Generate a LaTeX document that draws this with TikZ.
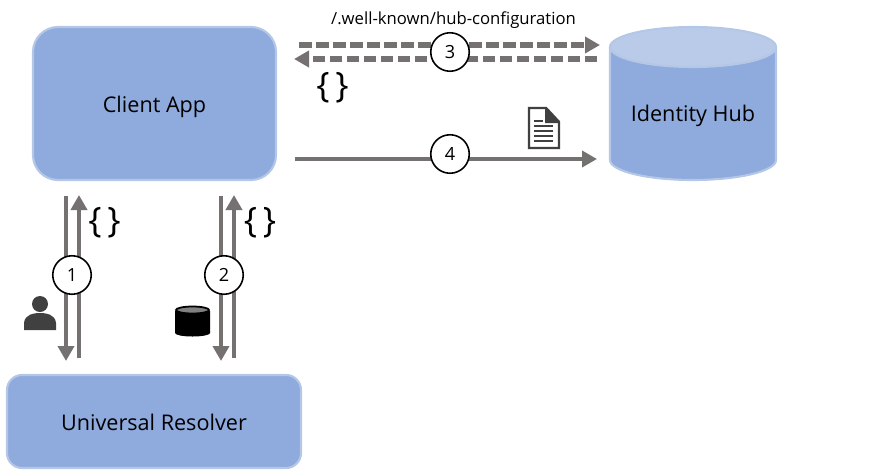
\documentclass[tikz,border=0pt]{standalone}
\usepackage{fontspec}
\setmainfont{Open Sans}
\usetikzlibrary{arrows.meta}
\definecolor{boxblue}{HTML}{8FAADC}
\definecolor{boxedge}{HTML}{B4C7E7}
\definecolor{hubtop}{HTML}{B9CBE8}
\definecolor{flowgrey}{HTML}{767171}
\definecolor{icongrey}{HTML}{404040}
\tikzset{
  flow/.style={line width=2.7pt,flowgrey,-{Triangle[length=3mm,width=3.2mm]}},
  dashflow/.style={line width=3pt,dash pattern=on 2.5mm off 0.9mm},
  appbox/.style={draw=boxedge,fill=boxblue,line width=1.2pt,rounded corners=5mm,minimum width=4.86cm,minimum height=3.06cm,font=\fontsize{12.3}{15}\selectfont},
  resolverbox/.style={appbox,rounded corners=3mm,minimum width=5.88cm,minimum height=1.86cm},
  stepnum/.style={draw=black,fill=white,circle,line width=0.9pt,minimum size=7.7mm,inner sep=0pt,font=\fontsize{10.3}{12}\selectfont},
  brace/.style={font=\fontsize{20}{24}\selectfont,inner sep=0pt},
}
\begin{document}
\begin{tikzpicture}
\useasboundingbox (0,0) rectangle (17.42,9.4);
% boxes
\node[appbox,text height=4.7mm] (app) at (3.09,7.33) {Client App};
\node[resolverbox,text height=3.8mm] (resolver) at (3.08,0.97) {Universal Resolver};
\draw[draw=boxedge,fill=boxblue,line width=1.2pt] (12.2,8.46) -- (12.2,6.2) arc[start angle=180,end angle=360,x radius=1.66,y radius=0.4] -- (15.52,8.46);
\draw[draw=boxedge,fill=hubtop,line width=1.2pt] (13.86,8.46) ellipse (1.66 and 0.4);
\node[font=\fontsize{12.3}{15}\selectfont] (hub) at (13.86,7.09) {Identity Hub};
% free ends of the connectors
\coordinate (a1) at (1.32,5.48); \coordinate (b1) at (1.32,2.18);
\coordinate (c1) at (1.58,2.24); \coordinate (d1) at (1.58,5.50);
\coordinate (a2) at (4.42,5.48); \coordinate (b2) at (4.42,2.18);
\coordinate (c2) at (4.68,2.24); \coordinate (d2) at (4.68,5.50);
\coordinate (a3) at (5.98,8.50); \coordinate (b3) at (12.00,8.50);
\coordinate (c3) at (11.94,8.22); \coordinate (d3) at (5.88,8.22);
\coordinate (a4) at (5.90,6.22); \coordinate (b4) at (11.94,6.22);
\draw[flow] (a1)--(b1);
\draw[flow] (c1)--(d1);
\draw[flow] (a2)--(b2);
\draw[flow] (c2)--(d2);
\draw[flow,dashflow] (a3)--(b3);
\draw[flow,dashflow] (c3)--(d3);
\draw[flow] (a4)--(b4);
% numbers
\node[stepnum] (n1) at (1.44,3.90) {1};
\node[stepnum] (n2) at (4.48,3.90) {2};
\node[stepnum] (n3) at (9.00,8.36) {3};
\node[stepnum] (n4) at (9.00,6.32) {4};
% labels
\node[font=\fontsize{9.5}{11}\selectfont] (wellknown) at (9.07,8.99) {/.well-known/hub-configuration};
\node[brace] (json1) at (2.09,4.94) {\{\,\}};
\node[brace] (json2) at (5.20,4.94) {\{\,\}};
\node[brace] (json3) at (6.65,7.64) {\{\,\}};
% person
\fill[icongrey] (0.80,3.32) circle (0.16);
\fill[icongrey] (0.48,2.80) -- (0.48,2.94) .. controls (0.50,3.12) and (0.68,3.14) .. (0.80,3.14) .. controls (0.92,3.14) and (1.10,3.12) .. (1.12,2.94) -- (1.12,2.80) -- cycle;
% small cylinder
\fill[black] (3.50,3.18) -- (3.50,2.74) arc[start angle=180,end angle=360,x radius=0.35,y radius=0.07] -- (4.20,3.18) -- cycle;
\draw[black,fill=gray,line width=1pt] (3.85,3.20) ellipse (0.33 and 0.07);
% document
\draw[icongrey,line width=1.4pt,fill=white,line join=miter] (10.58,7.24) -- (10.58,6.44) -- (11.18,6.44) -- (11.18,6.96) -- (10.92,7.24) -- cycle;
\fill[icongrey] (10.90,7.26) -- (11.20,6.94) -- (10.90,6.94) -- cycle;
\foreach \yy/\xx in {6.98/10.86,6.88/11.06,6.78/11.06,6.68/11.06,6.58/11.06}
  \draw[icongrey,line width=0.7pt] (10.68,\yy) -- (\xx,\yy);
\end{tikzpicture}
\end{document}
